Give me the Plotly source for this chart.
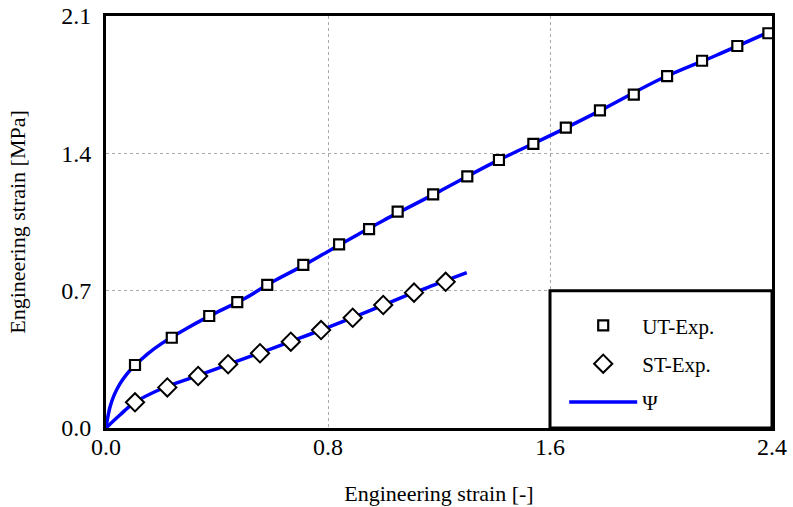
import plotly.graph_objects as go

ut_x = [0.1045, 0.237, 0.372, 0.473, 0.581, 0.711, 0.840, 0.948, 1.051, 1.179,
        1.302, 1.416, 1.540, 1.657, 1.780, 1.902, 2.022, 2.148, 2.275, 2.387]
ut_y = [0.321, 0.460, 0.571, 0.642, 0.730, 0.831, 0.936, 1.014, 1.103, 1.191,
        1.283, 1.366, 1.448, 1.531, 1.619, 1.699, 1.794, 1.872, 1.947, 2.012]

st_x = [0.1045, 0.221, 0.332, 0.440, 0.555, 0.666, 0.775, 0.889, 0.999, 1.110, 1.224]
st_y = [0.131, 0.207, 0.265, 0.325, 0.381, 0.440, 0.499, 0.562, 0.627, 0.690, 0.745]

# Model (Psi) curves
ut_model_x = [0, 0.005, 0.015, 0.03, 0.05, 0.075, 0.10, 0.15, 0.2, 0.3, 0.4, 0.5, 0.6, 0.7,
              0.8, 0.9, 1.0, 1.2, 1.4, 1.6, 1.8, 2.0, 2.2, 2.4]
ut_model_y = [0, 0.045, 0.11, 0.17, 0.225, 0.275, 0.313, 0.378, 0.43, 0.515, 0.59, 0.66, 0.745, 0.82,
              0.90, 0.98, 1.058, 1.205, 1.355, 1.49, 1.632, 1.78, 1.90, 2.025]

st_model_x = [0, 0.05, 0.1, 0.2, 0.3, 0.4, 0.5, 0.6, 0.7, 0.8, 0.9, 1.0, 1.1, 1.2, 1.3]
st_model_y = [0, 0.066, 0.127, 0.200, 0.252, 0.303, 0.355, 0.406, 0.459, 0.513, 0.569, 0.627, 0.685, 0.738, 0.792]

x_ticks = [0.0, 0.8, 1.6, 2.4]
y_ticks = [0.0, 0.7, 1.4, 2.1]

FONT = "Liberation Serif"
BLUE = "#0000FF"

fig = go.Figure()

fig.add_trace(go.Scatter(x=ut_model_x, y=ut_model_y, mode="lines",
                         line=dict(color=BLUE, width=3.5, shape="spline"),
                         name="Ψ", legendgroup="c", legendrank=3, showlegend=True))
fig.add_trace(go.Scatter(x=st_model_x, y=st_model_y, mode="lines",
                         line=dict(color=BLUE, width=3.5, shape="spline"),
                         name="Ψ", legendgroup="c", showlegend=False))
fig.add_trace(go.Scatter(x=ut_x, y=ut_y, mode="markers", name="UT-Exp.",
                         legendgroup="a", legendrank=1,
                         marker=dict(symbol="square", size=10, color="white",
                                     line=dict(color="black", width=2.2)),
                         cliponaxis=False))
fig.add_trace(go.Scatter(x=st_x, y=st_y, mode="markers", name="ST-Exp.",
                         legendgroup="b", legendrank=2,
                         marker=dict(symbol="diamond", size=14, color="white",
                                     line=dict(color="black", width=2)),
                         cliponaxis=False))

# Legend frame
fig.add_shape(type="rect", xref="x", yref="y", x0=1.6, x1=2.4, y0=0, y1=0.7,
              line=dict(color="black", width=3), fillcolor="white", layer="above")

fig.update_layout(
    width=793, height=507,
    margin=dict(l=106, r=21, t=16, b=79),
    paper_bgcolor="white", plot_bgcolor="white",
    font=dict(family=FONT, size=24, color="black"),
    showlegend=True,
    legend=dict(x=0.688, y=0.298, xanchor="left", yanchor="top",
                bgcolor="rgba(0,0,0,0)", borderwidth=0,
                traceorder="grouped", tracegroupgap=8, itemwidth=68,
                font=dict(family=FONT, size=21, color="black")),
    xaxis=dict(range=[0, 2.4], tickvals=x_ticks, ticktext=[f"{v:.1f}" for v in x_ticks],
               showgrid=True, gridcolor="#AAAAAA", griddash="dot", gridwidth=1,
               showline=True, linecolor="black", linewidth=3, mirror=True,
               ticks="", zeroline=False, automargin=False, ticklabelstandoff=-5,
               ticklabeloverflow="allow",
               tickfont=dict(family=FONT, size=24),
               title=dict(text="Engineering strain [-]", standoff=27,
                          font=dict(family=FONT, size=22))),
    yaxis=dict(range=[0, 2.1], tickvals=y_ticks, ticktext=[f"{v:.1f}" for v in y_ticks],
               showgrid=True, gridcolor="#AAAAAA", griddash="dot", gridwidth=1,
               showline=True, linecolor="black", linewidth=3, mirror=True,
               ticks="", zeroline=False, automargin=False, ticklabelstandoff=7,
               ticklabeloverflow="allow",
               tickfont=dict(family=FONT, size=24),
               title=dict(text="Engineering strain [MPa]", standoff=30,
                          font=dict(family=FONT, size=22))),
)

fig.write_html("out.html", config={"displayModeBar": False},
               post_script="document.body.style.margin='0';")
